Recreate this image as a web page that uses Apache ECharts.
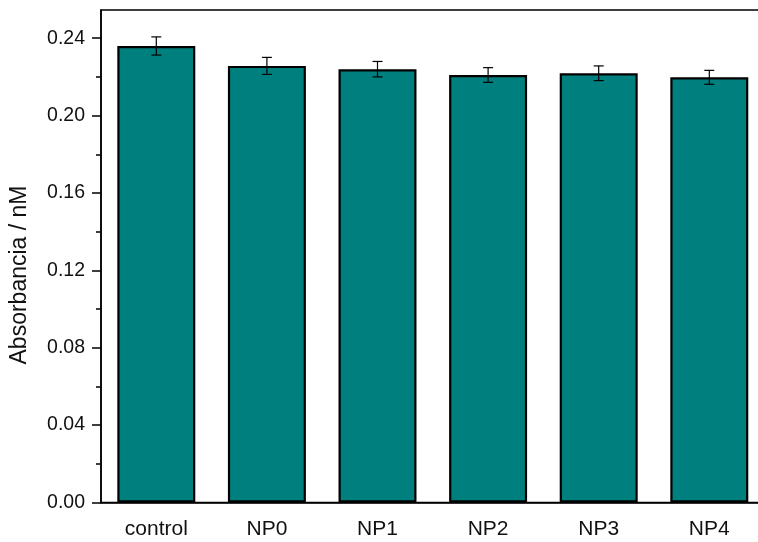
<!DOCTYPE html>
<html>
<head>
<meta charset="utf-8">
<script src="https://cdn.jsdelivr.net/npm/echarts@6/dist/echarts.min.js"></script>
<style>
  html, body { margin: 0; padding: 0; background: #fff; }
  #chart { width: 758px; height: 542px; }
</style>
</head>
<body>
<div id="chart"></div>
<script>
// Sample groups and measured absorbance (mean and standard deviation)
const categories = ['control', 'NP0', 'NP1', 'NP2', 'NP3', 'NP4'];
const absorbance = [0.2360, 0.2257, 0.2240, 0.2210, 0.2219, 0.2198];
const errors     = [0.0047, 0.0044, 0.0040, 0.0038, 0.0038, 0.0036];

// Y axis tick positions (major labelled, minor unlabelled)
const yMajorTicks = [0, 0.04, 0.08, 0.12, 0.16, 0.20, 0.24];
const yMinorTicks = [0.02, 0.06, 0.10, 0.14, 0.18, 0.22];
const yMax = 0.2546;

const FONT = 'Liberation Sans, Arial, sans-serif';
const chart = echarts.init(document.getElementById('chart'), null, { renderer: 'canvas' });

const option = {
  backgroundColor: '#fff',
  animation: false,
  grid: {
    left: 101, top: 10, width: 663.6, height: 492.5,
    outerBoundsMode: 'none', containLabel: false,
    show: true, borderColor: '#000', borderWidth: 1.5, backgroundColor: 'transparent'
  },
  xAxis: [
    {
      type: 'category', data: categories, boundaryGap: true,
      axisLine: { lineStyle: { color: '#000', width: 1.5 } },
      axisTick: { alignWithLabel: true, length: 9, lineStyle: { color: '#000', width: 1.5 } },
      axisLabel: { color: '#111', fontFamily: FONT, fontSize: 21, margin: 16 },
      splitLine: { show: false }
    },
    {
      // boundary ticks between groups
      type: 'category', data: categories, boundaryGap: true, position: 'bottom',
      axisLine: { show: false },
      axisTick: { length: 4.5, lineStyle: { color: '#000', width: 1.5 } },
      axisLabel: { show: false },
      splitLine: { show: false }
    }
  ],
  yAxis: [
    {
      type: 'value', min: 0, max: yMax,
      axisLine: { show: true, lineStyle: { color: '#000', width: 1.5 } },
      axisTick: { show: true, customValues: yMajorTicks, length: 9, lineStyle: { color: '#000', width: 1.5 } },
      axisLabel: {
        customValues: yMajorTicks, color: '#111', fontFamily: FONT, fontSize: 19.5, margin: 16,
        formatter: v => v.toFixed(2)
      },
      splitLine: { show: false }
    },
    {
      type: 'value', min: 0, max: yMax, position: 'left',
      axisLine: { show: false },
      axisTick: { show: true, customValues: yMinorTicks, length: 5, lineStyle: { color: '#000', width: 1.5 } },
      axisLabel: { show: false },
      splitLine: { show: false }
    }
  ],
  graphic: [
    {
      type: 'text', x: 20, y: 275, rotation: Math.PI / 2,
      style: {
        text: 'Absorbancia / nM', fill: '#111', font: '23px ' + FONT,
        textAlign: 'center', textVerticalAlign: 'middle'
      }
    }
  ],
  series: [
    {
      type: 'bar', data: absorbance, barWidth: '70.5%',
      itemStyle: { color: '#007f7f', borderColor: '#000', borderWidth: 2.2 },
      z: 2
    },
    {
      type: 'custom', z: 5,
      data: absorbance.map((v, i) => [i, v, errors[i]]),
      renderItem: function (params, api) {
        const x = api.value(0);
        const v = api.value(1);
        const e = api.value(2);
        const hi = api.coord([x, v + e]);
        const lo = api.coord([x, v - e]);
        const half = 5;
        const style = { stroke: '#000', lineWidth: 1.2 };
        return {
          type: 'group',
          children: [
            { type: 'line', shape: { x1: hi[0], y1: hi[1], x2: lo[0], y2: lo[1] }, style },
            { type: 'line', shape: { x1: hi[0] - half, y1: hi[1], x2: hi[0] + half, y2: hi[1] }, style },
            { type: 'line', shape: { x1: lo[0] - half, y1: lo[1], x2: lo[0] + half, y2: lo[1] }, style }
          ]
        };
      }
    }
  ]
};

chart.setOption(option);
</script>
</body>
</html>
